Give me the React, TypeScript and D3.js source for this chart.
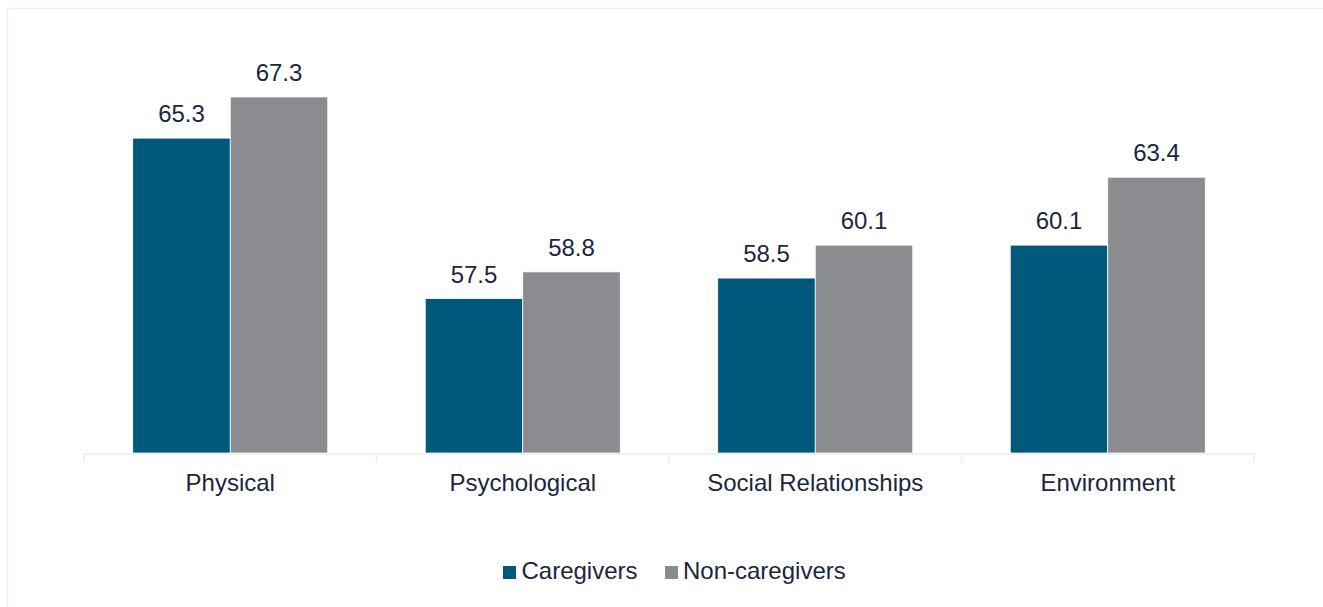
import React from "react";
import * as d3 from "d3";

const categories = ["Physical", "Psychological", "Social Relationships", "Environment"];
const seriesNames = ["Caregivers", "Non-caregivers"];
const caregivers = [65.3, 57.5, 58.5, 60.1];
const nonCaregivers = [67.3, 58.8, 60.1, 63.4];
const colors = ["#00587a", "#8b8c90"];

const W = 1323;
const H = 607;
const TEXT = "#1b2640";
const FONT = "'Liberation Sans', Arial, sans-serif";
const FS = 24;

export default function App() {
  const x0 = d3.scaleBand<string>().domain(categories).range([84, 1254]).paddingInner(0).paddingOuter(0);
  const x1 = d3.scaleBand<string>().domain(seriesNames).range([0, x0.bandwidth()]).paddingInner(0).paddingOuter(0.5);
  const y = d3.scaleLinear().domain([50, 70]).range([453, 41.4]);
  const series = [caregivers, nonCaregivers];

  const tickXs = [...categories.map((c) => x0(c) as number), 1254];

  return (
    <svg width={W} height={H} style={{ position: "absolute", left: 0, top: 0, display: "block" }} fontFamily={FONT}>
      <rect x={0} y={0} width={W} height={H} fill="#fff" />
      <line x1={7.5} y1={8} x2={7.5} y2={H} stroke="#efefef" strokeWidth={1.5} />
      <line x1={7} y1={8.5} x2={W} y2={8.5} stroke="#efefef" strokeWidth={1.5} />
      {categories.map((c, i) => (
        <g key={c} transform={`translate(${x0(c)},0)`}>
          {seriesNames.map((s, j) => {
            const v = series[j][i];
            const bx = x1(s) as number;
            return (
              <g key={s}>
                <rect
                  x={bx}
                  y={y(v)}
                  width={x1.bandwidth()}
                  height={y(50) - y(v)}
                  fill={colors[j]}
                  stroke="#fff"
                  strokeWidth={0.75}
                />
                <text
                  x={bx + x1.bandwidth() / 2}
                  y={y(v) - 16}
                  textAnchor="middle"
                  fontSize={FS}
                  fill={TEXT}
                >
                  {v.toFixed(1)}
                </text>
              </g>
            );
          })}
          <text x={x0.bandwidth() / 2} y={490.5} textAnchor="middle" fontSize={FS} fill={TEXT}>
            {c}
          </text>
        </g>
      ))}
      <line x1={84} y1={454} x2={1254} y2={454} stroke="#ececec" strokeWidth={1.5} />
      {tickXs.map((tx, i) => (
        <line key={i} x1={tx} y1={454} x2={tx} y2={462} stroke="#ececec" strokeWidth={1.5} />
      ))}
      <g>
        <rect x={503} y={566} width={13} height={13} fill={colors[0]} />
        <text x={521.5} y={579} fontSize={FS} fill={TEXT}>
          {seriesNames[0]}
        </text>
        <rect x={665} y={566} width={13} height={13} fill={colors[1]} />
        <text x={683} y={579} fontSize={FS} fill={TEXT}>
          {seriesNames[1]}
        </text>
      </g>
    </svg>
  );
}
